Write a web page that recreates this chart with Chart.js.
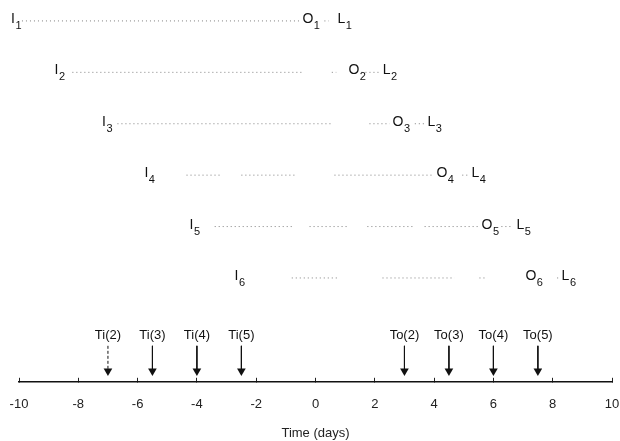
<!DOCTYPE html>
<html><head><meta charset="utf-8">
<script src="https://cdn.jsdelivr.net/npm/chart.js@4/dist/chart.umd.min.js"></script>
<style>html,body{margin:0;padding:0;background:#fff}#wrap{width:620px;height:441px}</style>
</head><body><div id="wrap"><canvas id="c"></canvas></div>
<script>
// Rows (1 = top row)
const rowIndex = [1, 2, 3, 4, 5, 6];
const rowNums = ['1', '2', '3', '4', '5', '6'];
// Left edges (days) of the I, O, L labels in each row
const inX = [-10.27, -8.8, -7.2, -5.77, -4.25, -2.73];
const outX = [-0.44, 1.11, 2.6, 4.08, 5.6, 7.08];
const lossX = [0.74, 2.27, 3.78, 5.26, 6.78, 8.3];
// Dotted stretches of each row (start, end in days)
const row1Dots = [[-9.9, -0.47], [0.3, 0.45]];
const row2Dots = [[-8.2, -0.44], [0.55, 0.7], [1.55, 2.15]];
const row3Dots = [[-6.68, 0.6], [1.82, 2.5], [3.35, 3.68]];
const row4Dots = [[-4.35, -3.14], [-2.5, -0.64], [0.64, 4.0], [4.95, 5.2]];
const row5Dots = [[-3.4, -0.78], [-0.2, 1.05], [1.75, 3.27], [3.68, 5.53], [6.27, 6.65]];
const row6Dots = [[-0.8, 0.74], [2.26, 4.69], [5.53, 5.8], [8.15, 8.22]];
const rowDots = [row1Dots, row2Dots, row3Dots, row4Dots, row5Dots, row6Dots];
// Arrows
const arrowX = [-7, -5.5, -4, -2.5, 3, 4.5, 6, 7.5];
const arrowLabels = ['Ti(2)', 'Ti(3)', 'Ti(4)', 'Ti(5)', 'To(2)', 'To(3)', 'To(4)', 'To(5)'];
const arrowDashed = [true, false, false, false, false, false, false, false];
const xTicks = [-10, -8, -6, -4, -2, 0, 2, 4, 6, 8, 10];

const ARROW_LABEL_Y = 7.11, ARROW_TOP_Y = 7.32, ARROW_HEAD_Y = 7.81;
const FONT = '"Liberation Sans", Arial, sans-serif';

const datasets = [];
rowDots.forEach((segs, i) => {
  segs.forEach(s => {
    datasets.push({
      data: [{x: s[0], y: rowIndex[i]}, {x: s[1], y: rowIndex[i]}],
      showLine: true, borderColor: '#808080', borderWidth: 1, borderDash: [1, 3],
      pointRadius: 0
    });
  });
});
arrowX.forEach((x, i) => {
  datasets.push({
    data: [{x: x, y: ARROW_TOP_Y}, {x: x, y: ARROW_HEAD_Y}],
    showLine: true, borderColor: '#111', borderWidth: 1,
    borderDash: arrowDashed[i] ? [3, 2] : [],
    pointRadius: [0, 5], pointStyle: 'triangle', rotation: 180,
    pointBackgroundColor: '#111', pointBorderColor: '#111', pointBorderWidth: 0
  });
});

const labelPlugin = {
  id: 'labels',
  afterDatasetsDraw(chart) {
    const ctx = chart.ctx, xs = chart.scales.x, ys = chart.scales.y;
    ctx.save();
    ctx.fillStyle = '#111';
    ctx.textBaseline = 'alphabetic';
    ctx.textAlign = 'left';
    const drawSub = (letter, sub, x, y) => {
      ctx.font = '14px ' + FONT;
      ctx.fillText(letter, x, y + 2);
      const w = ctx.measureText(letter).width;
      ctx.font = '11px ' + FONT;
      ctx.fillText(sub, x + w + 0.5, y + 8);
    };
    rowIndex.forEach((r, i) => {
      const py = ys.getPixelForValue(r);
      drawSub('I', rowNums[i], xs.getPixelForValue(inX[i]), py);
      drawSub('O', rowNums[i], xs.getPixelForValue(outX[i]), py);
      drawSub('L', rowNums[i], xs.getPixelForValue(lossX[i]), py);
    });
    ctx.font = '13px ' + FONT;
    ctx.textAlign = 'center';
    ctx.textBaseline = 'middle';
    arrowX.forEach((x, i) => {
      ctx.fillText(arrowLabels[i], xs.getPixelForValue(x), ys.getPixelForValue(ARROW_LABEL_Y));
    });
    ctx.restore();
  }
};

new Chart(document.getElementById('c'), {
  type: 'scatter',
  data: {datasets},
  options: {
    responsive: true, maintainAspectRatio: false, animation: false,
    layout: {padding: {left: 19, right: 8, top: 0, bottom: 0}},
    plugins: {legend: {display: false}, tooltip: {enabled: false}},
    scales: {
      x: {
        type: 'linear', min: -10, max: 10,
        afterBuildTicks: (s) => { s.ticks = xTicks.map(v => ({value: v})); },
        ticks: {font: {size: 13, family: FONT, lineHeight: '54px'}, color: '#222', padding: 0, maxRotation: 0},
        grid: {drawOnChartArea: false, drawTicks: true, tickLength: -4, color: '#222', lineWidth: 1},
        border: {display: true, color: '#111', width: 1.5},
        title: {display: true, text: 'Time (days)', font: {size: 13, family: FONT}, color: '#222', padding: {top: -6.4, bottom: 0}}
      },
      y: {display: false, reverse: true, min: 0.69, max: 8.02}
    }
  },
  plugins: [labelPlugin]
});
</script></body></html>
